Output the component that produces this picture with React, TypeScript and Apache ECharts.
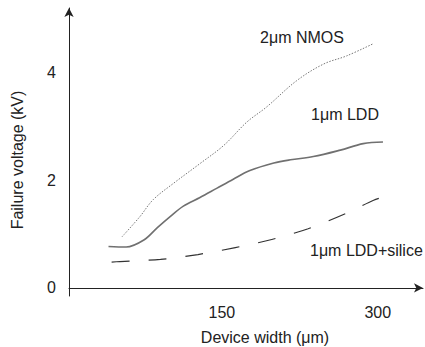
import React, { useEffect, useRef } from "react";
import * as echarts from "echarts";

const xTicks = [150, 300];
const yTicks = [0, 2, 4];

const nmosX = [54, 71, 84, 104, 129, 152, 174, 193, 222, 248, 270, 296];
const nmosY = [0.95, 1.32, 1.64, 1.95, 2.31, 2.65, 3.08, 3.36, 3.85, 4.16, 4.31, 4.54];

const lddX = [41, 58, 75, 88, 100, 113, 129, 145, 161, 177, 200, 216, 238, 264, 286, 305];
const lddY = [0.77, 0.76, 0.89, 1.12, 1.32, 1.52, 1.68, 1.85, 2.02, 2.18, 2.32, 2.38, 2.44, 2.56, 2.68, 2.71];

const silX = [44, 52, 91, 127, 163, 198, 233, 269, 296, 307];
const silY = [0.48, 0.49, 0.53, 0.62, 0.75, 0.9, 1.1, 1.38, 1.63, 1.7];

const seriesNames = ["2μm NMOS", "1μm LDD", "1μm LDD+silice"];

const zip = (xs: number[], ys: number[]) => xs.map((x, i) => [x, ys[i]]);

export default function App() {
  const ref = useRef<HTMLDivElement>(null);
  useEffect(() => {
    if (!ref.current) return;
    const chart = echarts.init(ref.current, null, { renderer: "svg" });
    const font = "Liberation Sans, Arial, sans-serif";
    chart.setOption({
      animation: false,
      grid: { left: 69, right: 2, top: 8, bottom: 51 },
      xAxis: {
        type: "value",
        min: 3,
        max: 343.5,
        axisLine: {
          show: true,
          symbol: ["none", "arrow"],
          symbolSize: [7, 9],
          lineStyle: { color: "#222", width: 1 },
        },
        axisTick: { show: false },
        splitLine: { show: false },
        axisLabel: {
          customValues: xTicks,
          color: "#222",
          fontSize: 16,
          fontFamily: font,
          margin: 8,
        },
      },
      yAxis: {
        type: "value",
        min: -0.15,
        max: 5.2,
        axisLine: {
          show: true,
          symbol: ["none", "arrow"],
          symbolSize: [7, 9],
          lineStyle: { color: "#222", width: 1 },
        },
        axisTick: { show: false },
        splitLine: { show: false },
        axisLabel: {
          customValues: yTicks,
          color: "#222",
          fontSize: 16,
          fontFamily: font,
          margin: 13,
        },
      },
      series: [
        {
          name: seriesNames[0],
          type: "line",
          data: zip(nmosX, nmosY),
          smooth: 0.35,
          showSymbol: false,
          lineStyle: { color: "#777", width: 1, type: [1.5, 1.5] },
        },
        {
          name: seriesNames[1],
          type: "line",
          data: zip(lddX, lddY),
          smooth: 0.35,
          showSymbol: false,
          lineStyle: { color: "#707070", width: 1.6, type: "solid" },
        },
        {
          name: seriesNames[2],
          type: "line",
          data: zip(silX, silY),
          smooth: 0.3,
          showSymbol: false,
          lineStyle: { color: "#333", width: 1.2, type: [18, 19] },
        },
      ],
      graphic: [
        {
          type: "text",
          x: 302,
          y: 37,
          style: { text: seriesNames[0], font: `16px ${font}`, fill: "#222", align: "center", verticalAlign: "middle" },
        },
        {
          type: "text",
          x: 345,
          y: 114,
          style: { text: seriesNames[1], font: `16px ${font}`, fill: "#222", align: "center", verticalAlign: "middle" },
        },
        {
          type: "text",
          x: 310,
          y: 250,
          style: { text: seriesNames[2], font: `16px ${font}`, fill: "#222", align: "left", verticalAlign: "middle" },
        },
        {
          type: "text",
          x: 265,
          y: 337,
          style: { text: "Device width (μm)", font: `16px ${font}`, fill: "#222", align: "center", verticalAlign: "middle" },
        },
        {
          type: "text",
          x: 17,
          y: 160,
          rotation: Math.PI / 2,
          style: { text: "Failure voltage (kV)", font: `16px ${font}`, fill: "#222", align: "center", verticalAlign: "middle" },
        },
      ],
    });
    return () => chart.dispose();
  }, []);
  return <div ref={ref} style={{ width: 425, height: 347, position: "absolute", left: 0, top: 0 }} />;
}
